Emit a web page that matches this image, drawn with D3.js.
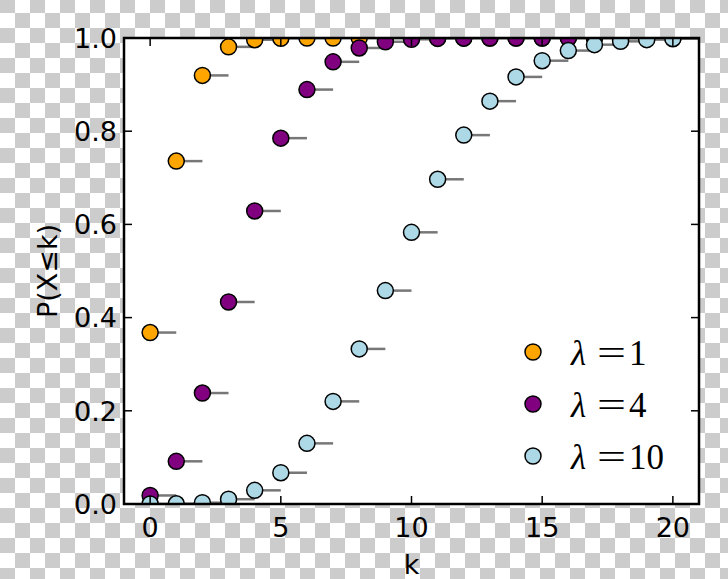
<!DOCTYPE html>
<html><head><meta charset="utf-8">
<script src="https://cdn.jsdelivr.net/npm/d3@7"></script>
<style>html,body{margin:0;padding:0;background:#fff;}svg{display:block;}</style>
</head><body>
<script>
const ks = d3.range(0, 21);
const lambdas = ["1", "4", "10"];
const seriesColors = ["#FFA500", "#800080", "#ADD8E6"];
const cdf1 = [0.3679,0.7358,0.9197,0.9810,0.9963,0.9994,0.9999,1.0000,1.0000,1.0000,1.0000,1.0000,1.0000,1.0000,1.0000,1.0000,1.0000,1.0000,1.0000,1.0000,1.0000];
const cdf4 = [0.0183,0.0916,0.2381,0.4335,0.6288,0.7851,0.8893,0.9489,0.9786,0.9919,0.9972,0.9991,0.9997,0.9999,1.0000,1.0000,1.0000,1.0000,1.0000,1.0000,1.0000];
const cdf10 = [0.0000,0.0005,0.0028,0.0103,0.0293,0.0671,0.1301,0.2202,0.3328,0.4579,0.5830,0.6968,0.7916,0.8645,0.9165,0.9513,0.9730,0.9857,0.9928,0.9965,0.9984];
const xTicks = [0, 5, 10, 15, 20];
const yTicks = [0.0, 0.2, 0.4, 0.6, 0.8, 1.0];
const xLabel = "k";
const yLabel = "P(X≤k)";

const W = 728, H = 579;
const m = {left: 124, right: 699, top: 38, bottom: 504};
const svg = d3.select("body").append("svg").attr("width", W).attr("height", H);
const defs = svg.append("defs");
const pat = defs.append("pattern").attr("id","chk").attr("patternUnits","userSpaceOnUse")
  .attr("width",30).attr("height",30).attr("y",-2);
pat.append("rect").attr("width",30).attr("height",30).attr("fill","#fff");
pat.append("rect").attr("width",15).attr("height",15).attr("fill","#cccccc");
pat.append("rect").attr("x",15).attr("y",15).attr("width",15).attr("height",15).attr("fill","#cccccc");
svg.append("rect").attr("width",W).attr("height",H).attr("fill","url(#chk)");

defs.append("clipPath").attr("id","clip").append("rect")
  .attr("x",m.left).attr("y",m.top).attr("width",m.right-m.left).attr("height",m.bottom-m.top);

const x = d3.scaleLinear().domain([-1, 21]).range([m.left, m.right]);
const y = d3.scaleLinear().domain([0, 1]).range([m.bottom, m.top]);

svg.append("rect").attr("x",m.left).attr("y",m.top).attr("width",m.right-m.left)
  .attr("height",m.bottom-m.top).attr("fill","#fff");

const all = [cdf1, cdf4, cdf10];
const plot = svg.append("g").attr("clip-path","url(#clip)");
all.forEach((vals, si) => {
  const g = plot.append("g");
  g.selectAll("line").data(ks).join("line")
    .attr("x1", k => x(k)).attr("x2", k => x(k+1))
    .attr("y1", k => y(vals[k])).attr("y2", k => y(vals[k]))
    .attr("stroke","#777").attr("stroke-width",2.5);
  g.selectAll("circle").data(ks).join("circle")
    .attr("cx", k => x(k)).attr("cy", k => y(vals[k])).attr("r", 8)
    .attr("fill", seriesColors[si]).attr("stroke","#000").attr("stroke-width",1.5);
});

const fs = 27;
const tickLen = 8;
const axG = svg.append("g").attr("stroke","#000").attr("stroke-width",1.5);
xTicks.forEach(t => {
  axG.append("line").attr("x1",x(t)).attr("x2",x(t)).attr("y1",m.bottom).attr("y2",m.bottom-tickLen);
  axG.append("line").attr("x1",x(t)).attr("x2",x(t)).attr("y1",m.top).attr("y2",m.top+tickLen);
});
yTicks.forEach(t => {
  axG.append("line").attr("x1",m.left).attr("x2",m.left+tickLen).attr("y1",y(t)).attr("y2",y(t));
  axG.append("line").attr("x1",m.right).attr("x2",m.right-tickLen).attr("y1",y(t)).attr("y2",y(t));
});
svg.append("rect").attr("x",m.left).attr("y",m.top).attr("width",m.right-m.left)
  .attr("height",m.bottom-m.top).attr("fill","none").attr("stroke","#000").attr("stroke-width",2.5);

const font = "DejaVu Sans, sans-serif";
svg.append("g").selectAll("text").data(xTicks).join("text")
  .attr("x", d => x(d)).attr("y", 537).attr("text-anchor","middle")
  .attr("font-family",font).attr("font-size",fs).attr("fill","#000").text(d => d);
svg.append("g").selectAll("text").data(yTicks).join("text")
  .attr("x", 117).attr("y", d => y(d)).attr("dy","0.36em").attr("text-anchor","end")
  .attr("font-family",font).attr("font-size",fs).attr("fill","#000").text(d => d.toFixed(1));
svg.append("text").attr("x",(m.left+m.right)/2).attr("y",574).attr("text-anchor","middle")
  .attr("font-family",font).attr("font-size",fs).attr("fill","#000").text(xLabel);
svg.append("text").attr("transform",`translate(57,${(m.top+m.bottom)/2}) rotate(-90)`)
  .attr("text-anchor","middle").attr("font-family",font).attr("font-size",fs).attr("fill","#000").text(yLabel);

const legY = [352, 404, 456];
const leg = svg.append("g");
lambdas.forEach((lam, i) => {
  leg.append("circle").attr("cx",533).attr("cy",legY[i]).attr("r",8)
    .attr("fill",seriesColors[i]).attr("stroke","#000").attr("stroke-width",1.5);
  const t = leg.append("text").attr("y",legY[i]+13).attr("font-family","Liberation Serif, serif")
    .attr("font-size",35).attr("fill","#000");
  t.append("tspan").attr("x",571).attr("font-style","italic").text("λ");
  t.append("tspan").attr("x",597).attr("textLength",29).attr("lengthAdjust","spacingAndGlyphs").text("=");
  t.append("tspan").attr("x",629).text(lam);
});
</script>
</body></html>
